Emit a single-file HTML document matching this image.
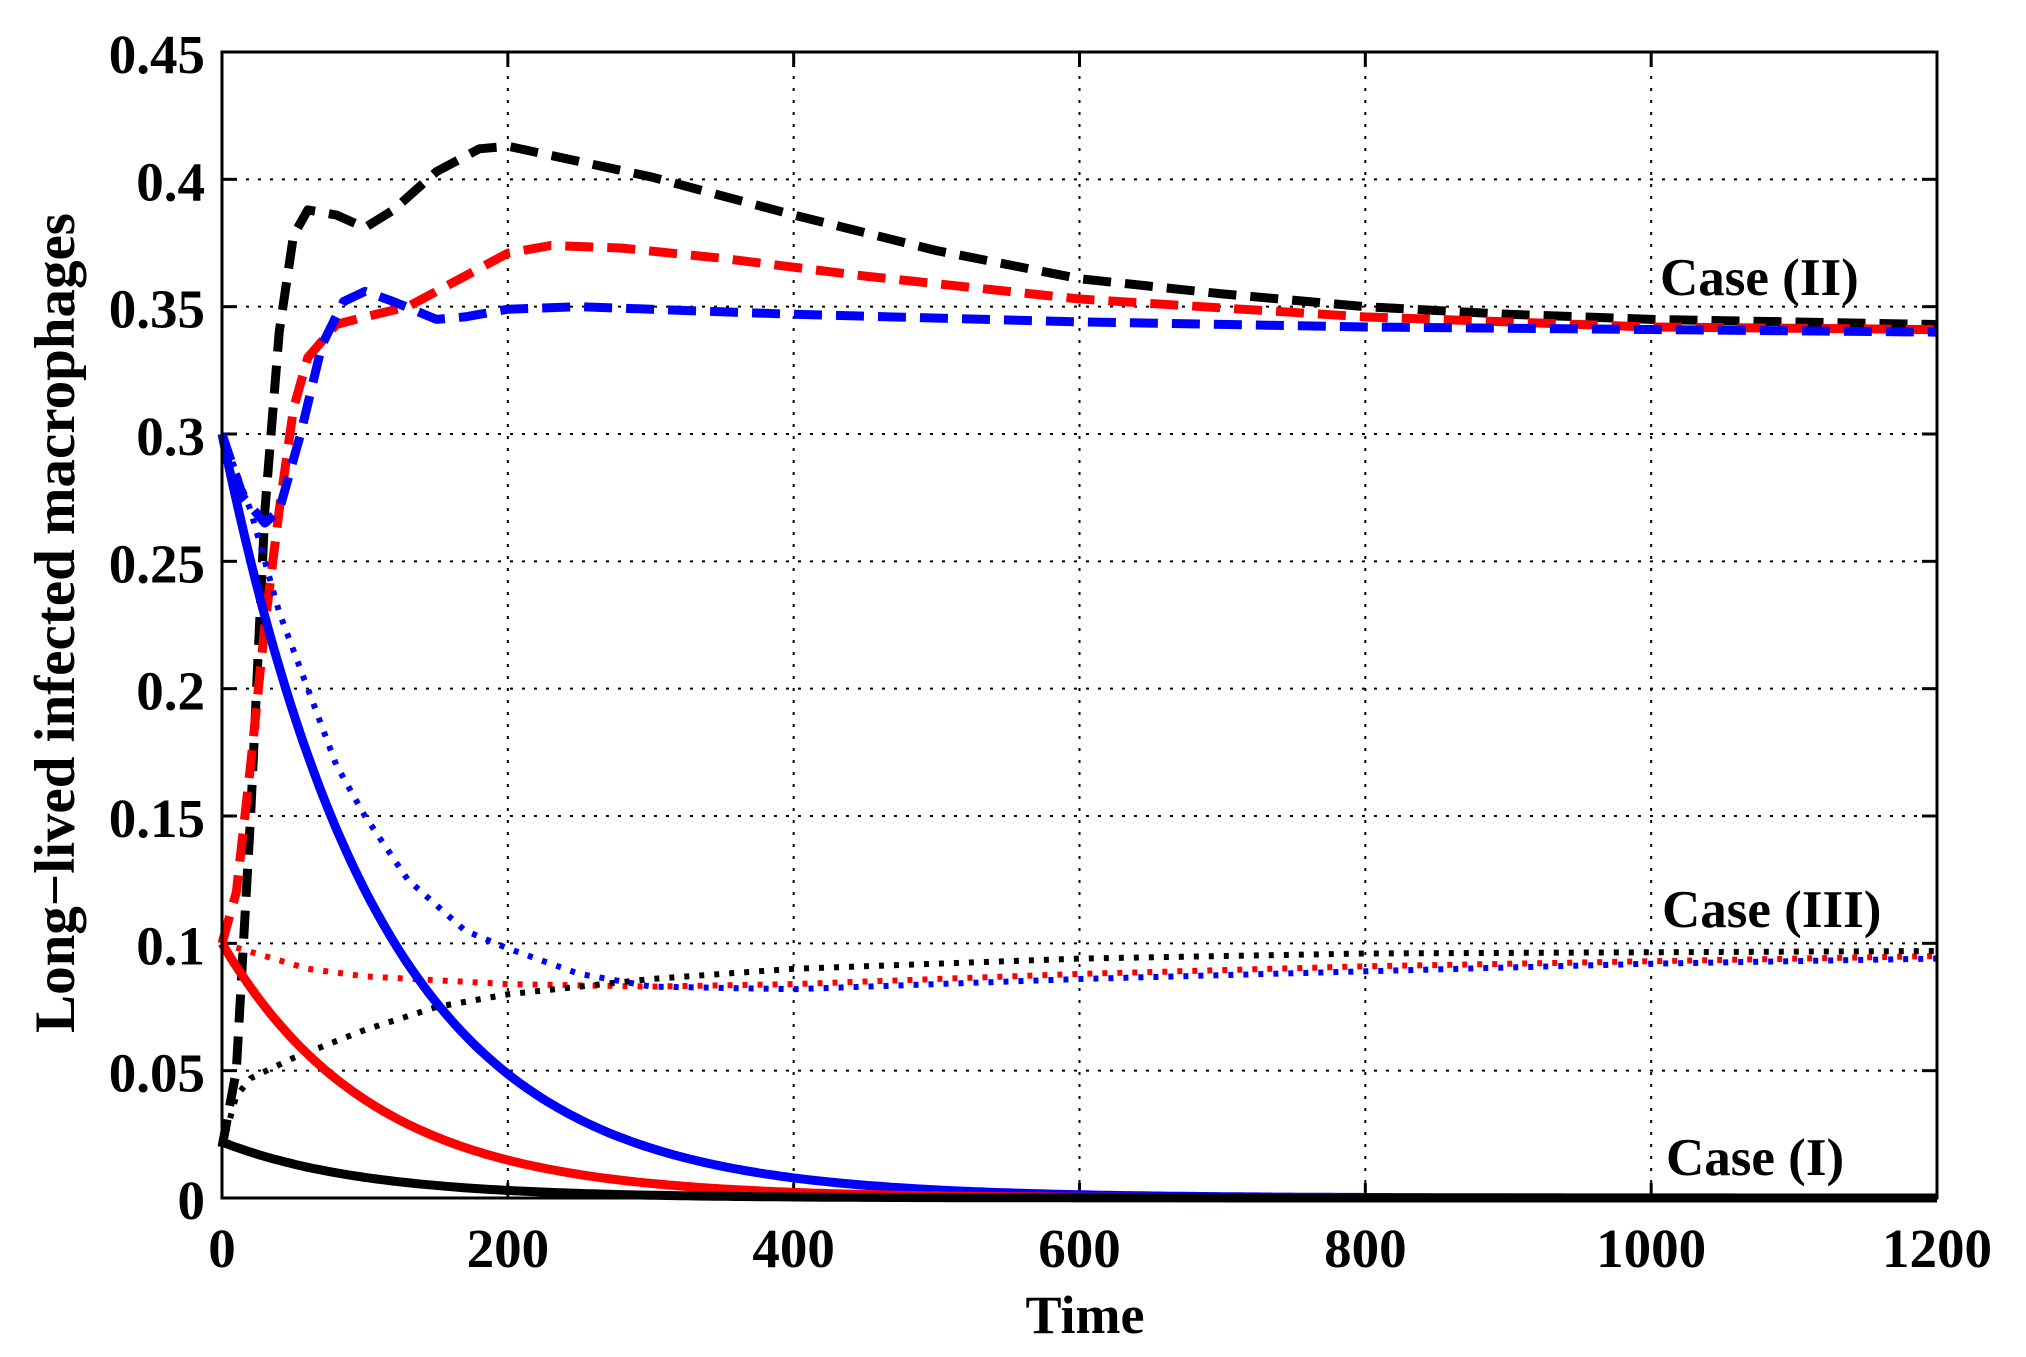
<!DOCTYPE html>
<html><head><meta charset="utf-8"><style>
html,body{margin:0;padding:0;background:#fff;}
svg{display:block;}
text{font-family:"Liberation Serif","Times New Roman",serif;font-weight:bold;fill:#000;}
</style></head><body>
<svg id="s" width="2026" height="1357" viewBox="0 0 2026 1357" xmlns="http://www.w3.org/2000/svg">
<rect x="0" y="0" width="2026" height="1357" fill="#fff"/>
<g id="grid" stroke="#000" stroke-width="2" stroke-dasharray="3,9"></g>
<g id="ticks" stroke="#000" stroke-width="3"></g>
<g id="curves" fill="none" stroke-linejoin="round"></g>
<rect x="222" y="52" width="1715" height="1146" fill="none" stroke="#000" stroke-width="3"/>
<g id="labels" font-size="55"></g>
<text x="1660" y="295" font-size="53">Case (II)</text>
<text x="1662" y="927" font-size="53">Case (III)</text>
<text x="1666" y="1175" font-size="53">Case (I)</text>
<text x="1085" y="1333" font-size="54" text-anchor="middle">Time</text>
<text transform="translate(74,623) rotate(-90)" font-size="57" text-anchor="middle">Long−lived infected macrophages</text>
</svg>
<script>
var NS="http://www.w3.org/2000/svg";
function X(t){return 222+t/1200*1715;}
function Y(v){return 1198-v/0.45*1146;}
function el(p,n,a,txt){var e=document.createElementNS(NS,n);for(var k in a)e.setAttribute(k,a[k]);if(txt!==undefined)e.textContent=txt;document.getElementById(p).appendChild(e);return e;}
for(var t=200;t<1200;t+=200){el("grid","line",{x1:X(t),x2:X(t),y1:52,y2:1198});}
for(var i=1;i<9;i++){var v=i*0.05;el("grid","line",{x1:222,x2:1937,y1:Y(v),y2:Y(v)});}
for(var t=0;t<=1200;t+=200){el("ticks","line",{x1:X(t),x2:X(t),y1:1198,y2:1183});el("ticks","line",{x1:X(t),x2:X(t),y1:52,y2:67});
 el("labels","text",{x:X(t),y:1267,"text-anchor":"middle"},String(t));}
var yl=["0","0.05","0.1","0.15","0.2","0.25","0.3","0.35","0.4","0.45"];
for(var i=0;i<10;i++){var v=i*0.05;el("ticks","line",{x1:222,x2:237,y1:Y(v),y2:Y(v)});el("ticks","line",{x1:1937,x2:1922,y1:Y(v),y2:Y(v)});
 el("labels","text",{x:205,y:Y(v)+21,"text-anchor":"end"},yl[i]);}
function path(pts){var d="";for(var i=0;i<pts.length;i+=2){d+=(i?"L":"M")+X(pts[i]).toFixed(1)+","+Y(pts[i+1]).toFixed(1);}return d;}
function fn(f,T){var a=[];for(var t=0;t<=T;t+=4){a.push(t,f(t));}return a;}
var dash="28,14", dot="5,10";
var C=[
["#000",dash,[0,0.02,10,0.05,20,0.15,30,0.27,40,0.34,50,0.378,60,0.388,80,0.386,100,0.381,120,0.388,150,0.403,180,0.412,200,0.413,250,0.407,300,0.401,400,0.386,500,0.372,600,0.361,700,0.355,800,0.35,900,0.347,1000,0.345,1200,0.343]],
["#f00",dash,[0,0.1,10,0.12,20,0.17,30,0.225,40,0.27,50,0.31,60,0.33,80,0.343,100,0.346,130,0.35,170,0.362,200,0.371,230,0.374,280,0.373,350,0.369,450,0.362,600,0.353,800,0.346,1000,0.342,1200,0.341]],
["#00f",dash,[0,0.3,15,0.275,30,0.265,40,0.27,55,0.3,70,0.335,85,0.352,100,0.356,120,0.352,150,0.345,170,0.346,200,0.349,250,0.35,400,0.347,600,0.344,800,0.342,1200,0.34]],
["#00f",dot,[0,0.3,20,0.27,40,0.23,60,0.2,80,0.17,100,0.15,130,0.125,170,0.105,200,0.098,250,0.088,300,0.083,400,0.082,600,0.086,800,0.089,1000,0.092,1200,0.094]],
["#f00",dot,[0,0.1,30,0.095,60,0.09,100,0.087,200,0.084,300,0.083,400,0.084,600,0.088,800,0.091,1000,0.093,1200,0.095]],
["#000",dot,[0,0.02,10,0.04,20,0.047,50,0.055,100,0.066,150,0.075,200,0.08,300,0.086,400,0.09,600,0.094,800,0.096,1200,0.097]],
["#00f",null,fn(function(t){return 0.3*Math.exp(-t/110);},1200)],
["#f00",null,fn(function(t){return 0.1*Math.exp(-t/105);},1200)],
["#000",null,fn(function(t){return 0.022*Math.exp(-t/100);},1200)]
];
C.forEach(function(c){var a={d:path(c[2]),stroke:c[0],"stroke-width":c[1]==dot?6:9};if(c[1])a["stroke-dasharray"]=c[1];el("curves","path",a);});
</script>
</body></html>
